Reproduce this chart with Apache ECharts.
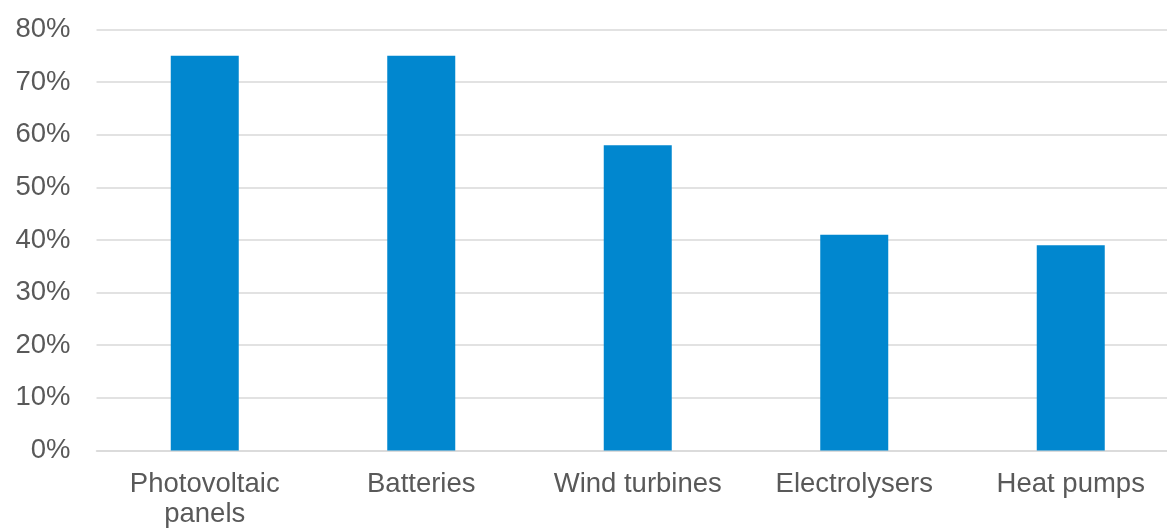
<!DOCTYPE html>
<html>
<head>
<meta charset="utf-8">
<script src="https://cdn.jsdelivr.net/npm/echarts@6/dist/echarts.min.js"></script>
<style>
  html, body { margin: 0; padding: 0; background: #ffffff; overflow: hidden; }
  #chart { width: 1180px; height: 529px; }
</style>
</head>
<body>
<div id="chart"></div>
<script>
// Technology categories shown along the x axis
const categories = ['Photovoltaic\npanels', 'Batteries', 'Wind turbines', 'Electrolysers', 'Heat pumps'];
// Share per technology, in percent
const shares = [75, 75, 58, 41, 39];
// Value axis range and step, in percent
const axisMin = 0;
const axisMax = 80;
const axisStep = 10;

const chart = echarts.init(document.getElementById('chart'), null, { renderer: 'canvas' });

const textStyle = {
  fontFamily: '"Liberation Sans", Arial, sans-serif',
  fontSize: 27.5,
  color: '#595959'
};

chart.setOption({
  animation: false,
  backgroundColor: '#ffffff',
  grid: {
    left: 96.5,
    top: 29.5,
    width: 1082.5,
    height: 422.2,
    containLabel: false
  },
  xAxis: {
    type: 'category',
    data: categories,
    axisLine: { show: true, lineStyle: { color: '#d9d9d9', width: 1.5 } },
    axisTick: { show: false },
    axisLabel: Object.assign({ margin: 18.5, lineHeight: 30, interval: 0 }, textStyle)
  },
  yAxis: {
    type: 'value',
    min: axisMin,
    max: axisMax,
    interval: axisStep,
    axisLine: { show: false },
    axisTick: { show: false },
    splitLine: { lineStyle: { color: '#d9d9d9', width: 1.5 } },
    axisLabel: Object.assign({ margin: 26, formatter: '{value}%' }, textStyle)
  },
  series: [{
    type: 'bar',
    data: shares,
    barWidth: 68,
    itemStyle: { color: '#0187cf' }
  }]
});
</script>
</body>
</html>
